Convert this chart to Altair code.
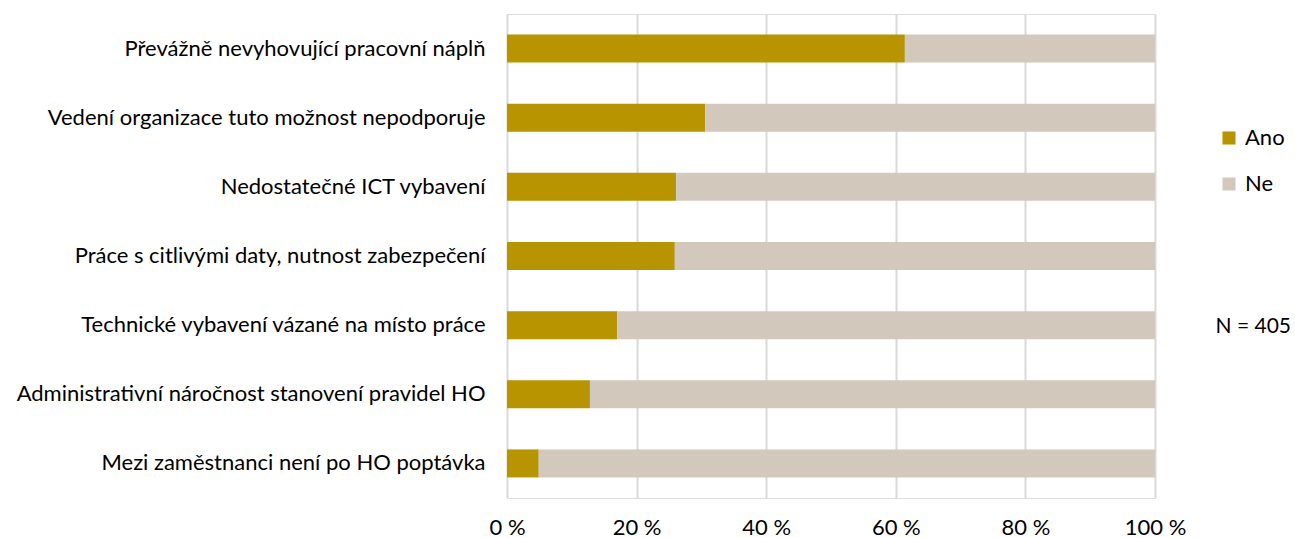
import altair as alt
import pandas as pd

categories = [
    "Převážně nevyhovující pracovní náplň",
    "Vedení organizace tuto možnost nepodporuje",
    "Nedostatečné ICT vybavení",
    "Práce s citlivými daty, nutnost zabezpečení ",
    "Technické vybavení vázané na místo práce",
    "Administrativní náročnost stanovení pravidel HO",
    "Mezi zaměstnanci není po HO poptávka",
]
ano = [61.4, 30.6, 26.1, 25.9, 17.0, 12.8, 4.9]
ne = [38.6, 69.4, 73.9, 74.1, 83.0, 87.2, 95.1]
series = ["Ano", "Ne"]
colors = ["#B89500", "#D2C9BC"]
ticks = [0, 20, 40, 60, 80, 100]

rows = []
for c, a, n in zip(categories, ano, ne):
    rows.append({"cat": c, "serie": "Ano", "val": a, "ord": 0})
    rows.append({"cat": c, "serie": "Ne", "val": n, "ord": 1})
df = pd.DataFrame(rows)

FONT = "Lato"
FS = 22

bars = alt.Chart(df).mark_bar(size=28).encode(
    y=alt.Y("cat:N", sort=categories, title=None,
            scale=alt.Scale(paddingInner=0.6, paddingOuter=0.3),
            axis=alt.Axis(labelFontSize=FS, labelFont=FONT, labelColor="#000000",
                          ticks=False, domain=False, labelPadding=22, labelLimit=600)),
    x=alt.X("val:Q", stack="zero", title=None,
            scale=alt.Scale(domain=[0, 100], nice=False),
            axis=alt.Axis(values=ticks, labelExpr="datum.value + ' %'",
                          labelFontSize=FS, labelFont=FONT, labelColor="#000000",
                          ticks=False, domain=False, labelPadding=19, labelFlush=False,
                          grid=True, gridColor="#D9D9D9", gridWidth=2)),
    color=alt.Color("serie:N", scale=alt.Scale(domain=series, range=colors),
                    legend=alt.Legend(title=None, orient="none", legendX=711, legendY=113,
                                      symbolType="square", symbolSize=170, symbolStrokeWidth=0,
                                      labelFontSize=FS, labelFont=FONT, labelColor="#000000",
                                      rowPadding=24, symbolOffset=0, labelOffset=5)),
    order=alt.Order("ord:Q"),
)

note = alt.Chart(pd.DataFrame({"t": ["N = 405"]})).mark_text(
    align="right", baseline="middle", fontSize=21, font=FONT, color="#000000"
).encode(text="t:N", x=alt.value(784), y=alt.value(313))

chart = alt.layer(bars, note).properties(
    width=648, height=484,
    autosize=alt.AutoSizeParams(type="none"),
    padding={"left": 507, "top": 14, "right": 140, "bottom": 40},
).configure_view(stroke=None).configure(background="#FFFFFF")

chart.save("out.html", embed_options={"renderer": "svg", "actions": False})
